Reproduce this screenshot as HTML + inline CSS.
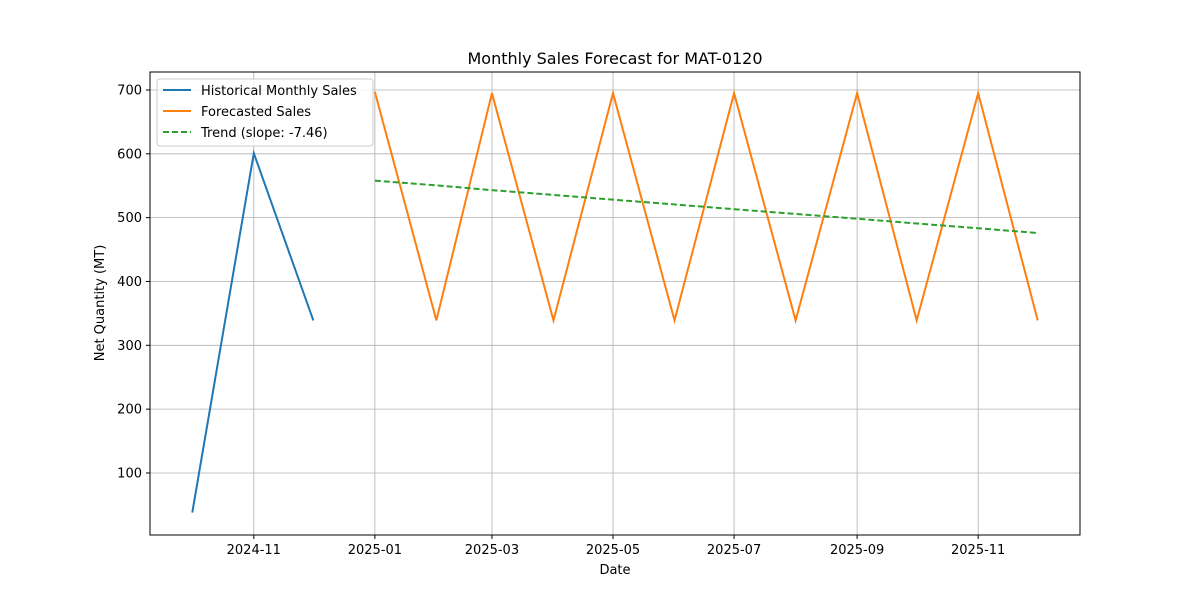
<!DOCTYPE html>
<html><head><meta charset="utf-8"><style>
body{margin:0;background:#fff;font-family:"Liberation Sans","DejaVu Sans",sans-serif;}
</style></head><body>
<svg id="chart" width="1200" height="600" xmlns="http://www.w3.org/2000/svg" font-family="DejaVu Sans, Liberation Sans, sans-serif">
<rect width="1200" height="600" fill="#fff"/>
<g id="grid"></g>
<g id="series"></g>
<rect x="150" y="72" width="930" height="463" fill="none" stroke="#000" stroke-width="1"/>
<g id="ticks"></g>
<text x="615" y="64" text-anchor="middle" font-size="16">Monthly Sales Forecast for MAT-0120</text>
<text x="615" y="574" text-anchor="middle" font-size="13">Date</text>
<text transform="translate(104,303) rotate(-90)" text-anchor="middle" font-size="13">Net Quantity (MT)</text>
<g>
<rect x="157" y="79" width="216" height="67" fill="#fff" fill-opacity="0.8" stroke="#ccc" rx="3"/>
<line x1="163" y1="90" x2="191" y2="90" stroke="#1f77b4" stroke-width="2"/>
<text x="201" y="95" font-size="13">Historical Monthly Sales</text>
<line x1="163" y1="111" x2="191" y2="111" stroke="#ff7f0e" stroke-width="2"/>
<text x="201" y="116" font-size="13">Forecasted Sales</text>
<line x1="163" y1="132" x2="191" y2="132" stroke="#2ca02c" stroke-width="2" stroke-dasharray="6,3"/>
<text x="201" y="137" font-size="13">Trend (slope: -7.46)</text>
</g>
</svg>
<script>
const histDates=["2024-10-01","2024-11-01","2024-12-01"];
const histValues=[38,601,339];
const fcDates=["2025-01-01","2025-02-01","2025-03-01","2025-04-01","2025-05-01","2025-06-01","2025-07-01","2025-08-01","2025-09-01","2025-10-01","2025-11-01","2025-12-01"];
const fcValues=[697,339,695,339,695,339,695,339,695,339,695,339];
const trendStart=558;
const trendSlope=-7.46;
const xTickLabels=["2024-11","2025-01","2025-03","2025-05","2025-07","2025-09","2025-11"];
const yTicks=[100,200,300,400,500,600,700];

const NS="http://www.w3.org/2000/svg";
const t0=Date.parse("2024-10-01"),t1=Date.parse("2025-12-01");
const pad=(t1-t0)*0.05;
function X(d){const t=Date.parse(d);return 150+(t-(t0-pad))/((t1+pad)-(t0-pad))*930;}
function Y(v){return 536.8-v*0.6383;}
function mk(tag,attrs,parent){const e=document.createElementNS(NS,tag);for(const k in attrs)e.setAttribute(k,attrs[k]);parent.appendChild(e);return e;}
const grid=document.getElementById('grid'),ticks=document.getElementById('ticks'),series=document.getElementById('series');
xTickLabels.forEach(l=>{const x=X(l+"-01");
 const g=mk('line',{x1:x,x2:x,y1:72,y2:535,stroke:'#b0b0b0','stroke-width':0.8},grid);
 
 
 mk('line',{x1:x,x2:x,y1:535,y2:539,stroke:'#000'},ticks);
 const t=mk('text',{x:x,y:554,'text-anchor':'middle','font-size':13},ticks);t.textContent=l;
 
 
});
yTicks.forEach(v=>{const y=Y(v);
 const g=mk('line',{x1:150,x2:1080,y1:y,y2:y,stroke:'#b0b0b0','stroke-width':0.8},grid);
 
 
 mk('line',{x1:146,x2:150,y1:y,y2:y,stroke:'#000'},ticks);
 const t=mk('text',{x:142,y:y+4.5,'text-anchor':'end','font-size':13},ticks);t.textContent=v;
 
 
});
const h=mk('polyline',{points:histDates.map((d,i)=>X(d)+','+Y(histValues[i])).join(' '),fill:'none',stroke:'#1f77b4','stroke-width':2},series);


const f=mk('polyline',{points:fcDates.map((d,i)=>X(d)+','+Y(fcValues[i])).join(' '),fill:'none',stroke:'#ff7f0e','stroke-width':2},series);


const tr=mk('polyline',{points:fcDates.map((d,i)=>X(d)+','+Y(trendStart+trendSlope*i)).join(' '),fill:'none',stroke:'#2ca02c','stroke-width':2,'stroke-dasharray':'6,3'},series);


</script>
</body></html>
